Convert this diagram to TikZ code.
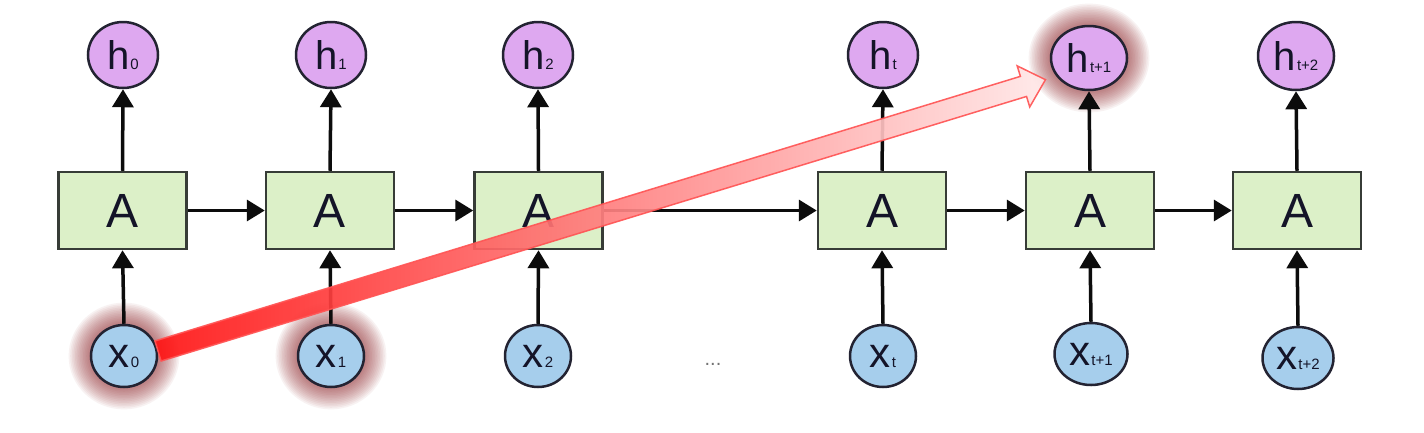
\documentclass[tikz,border=0pt]{standalone}
\usepackage{fontspec}
\setmainfont{Liberation Sans}
\usetikzlibrary{shapes.geometric,arrows.meta}
\definecolor{boxfill}{RGB}{220,240,200}
\definecolor{boxline}{RGB}{55,60,55}
\definecolor{hfill}{RGB}{222,168,240}
\definecolor{xfill}{RGB}{166,206,236}
\definecolor{cline}{RGB}{35,35,50}
\definecolor{txt}{RGB}{20,20,40}
\definecolor{arr}{RGB}{12,12,12}
\definecolor{glowc}{RGB}{140,30,35}
\definecolor{redA}{RGB}{255,20,20}
\definecolor{redB}{RGB}{255,232,232}
\definecolor{redL}{RGB}{255,85,85}
\newcommand\lab[2]{#1\kern1pt{\fontsize{15}{15}\selectfont #2}}
\tikzset{
  cell/.style={draw=boxline, fill=boxfill, line width=2.5pt, minimum width=128pt,
    minimum height=77pt, inner sep=0pt, text=txt, font=\fontsize{48}{48}\selectfont},
  hid/.style={ellipse, draw=cline, fill=hfill, line width=2.5pt, minimum width=70pt,
    minimum height=66pt, inner sep=0pt, text=txt, font=\fontsize{40}{40}\selectfont},
  inp/.style={ellipse, draw=cline, fill=xfill, line width=2.5pt, minimum width=66pt,
    minimum height=62pt, inner sep=0pt, text=txt, font=\fontsize{42}{42}\selectfont},
  wide/.style={minimum width=76pt, minimum height=64pt},
  flow/.style={draw=arr, line width=3.5pt, -{Triangle[width=21pt,length=18pt]}},
  glowring/.style={fill=glowc, opacity=0.055},
}
\begin{document}
\begin{tikzpicture}[x=1pt,y=-1pt]
\fill[white] (0,0) rectangle (1424,432);
\useasboundingbox (0,0) rectangle (1424,432);
% positions
\coordinate (ph0) at (123,55);  \coordinate (px0) at (124,356);
\coordinate (ph1) at (331,55);  \coordinate (px1) at (331,356);
\coordinate (ph4) at (1089,58);
% glows
\foreach \c/\a/\b in {px0/33/31, px1/33/31, ph4/38/32}{
  \foreach \k [evaluate=\k as \r using \a+1.6*\k, evaluate=\k as \s using \b+1.6*\k] in {1,...,14}
    \fill[glowring] (\c) ellipse ({\r pt} and {\s pt});
}
% cells
\node[cell] (a0) at (122.5,210.5) {A};
\node[cell] (a1) at (330,210.5) {A};
\node[cell] (a2) at (538.5,210.5) {A};
\node[cell] (a3) at (882,210.5) {A};
\node[cell] (a4) at (1090,210.5) {A};
\node[cell] (a5) at (1297,210.5) {A};
% outputs
\node[hid] (h0) at (ph0) {\lab{h}{0}};
\node[hid] (h1) at (ph1) {\lab{h}{1}};
\node[hid] (h2) at (538,55) {\lab{h}{2}};
\node[hid] (h3) at (883,55) {\lab{h}{t}};
\node[hid,wide] (h4) at (ph4) {\lab{h}{t+1}};
\node[hid,wide,minimum height=68pt] (h5) at (1296,56) {\lab{h}{t+2}};
% inputs
\node[inp] (x0) at (px0) {\lab{x}{0}};
\node[inp] (x1) at (px1) {\lab{x}{1}};
\node[inp] (x2) at (538,356) {\lab{x}{2}};
\node[inp] (x3) at (883,356) {\lab{x}{t}};
\node[inp,minimum width=73pt] (x4) at (1091,354) {\lab{x}{t+1}};
\node[inp,minimum width=71pt] (x5) at (1298,358) {\lab{x}{t+2}};
\node[text=black!55, font=\fontsize{20}{20}\selectfont] (dots) at (713,364) {...};
% arrows
\foreach \i in {0,...,5}{
  \draw[flow] (a\i.north) -- (h\i.south);
  \draw[flow] (x\i.north) -- (a\i.south);
}
\draw[flow] (a0) -- (a1);
\draw[flow] (a1) -- (a2);
\draw[flow] (a2) -- (a3);
\draw[flow] (a3) -- (a4);
\draw[flow] (a4) -- (a5);
% highlighted block arrow
\begin{scope}[shift={(158,351)}, rotate=17]
  \shade[left color=redA, right color=redB, draw=redL, line width=1.5pt, opacity=0.92]
    (0,-10.5) -- (905,-10.5) -- (905,-21.5) -- (928,0) -- (905,21.5) -- (905,10.5) -- (0,10.5) -- cycle;
\end{scope}
\end{tikzpicture}
\end{document}
